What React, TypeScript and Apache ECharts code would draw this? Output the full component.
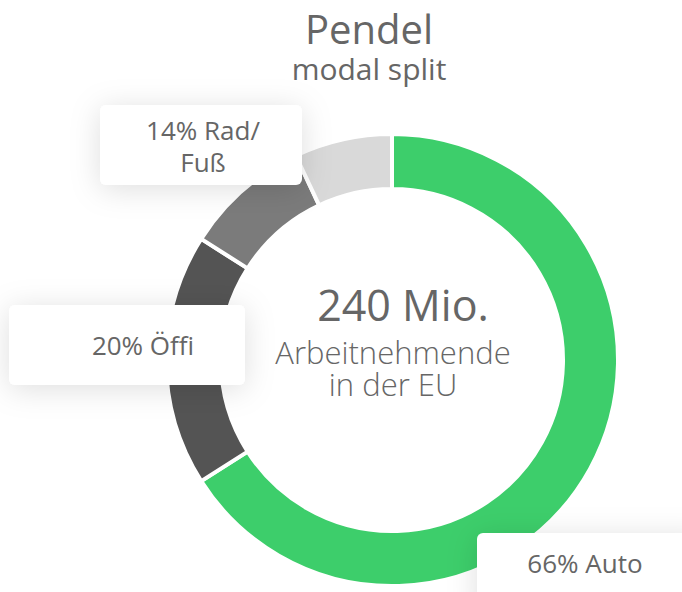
import React, { useEffect, useRef } from "react";
import * as echarts from "echarts";

const categories = ["Auto", "Öffi", "Rad", "Fuß"];
const values = [66, 18, 9, 7];
const sliceColors = ["#3dce6b", "#545454", "#7b7b7b", "#d9d9d9"];
const titleText = "Pendel";
const subtitleText = "modal split";
const centerLines = ["240 Mio.", "Arbeitnehmende", "in der EU"];
const labelAuto = "66% Auto";
const labelOeffi = "20% Öffi";
const labelRadFuss = ["14% Rad/", "Fuß"];

const FONT = '"Open Sans", "Noto Sans", sans-serif';
const TEXT_COLOR = "#666666";

function box(x: number, y: number, w: number, h: number) {
  return {
    type: "rect",
    z: 100,
    silent: true,
    shape: { x, y, width: w, height: h, r: 6 },
    style: {
      fill: "#ffffff",
      shadowBlur: 30,
      shadowColor: "rgba(0,0,0,0.13)",
      shadowOffsetY: 4,
    },
  };
}

function txt(
  x: number,
  y: number,
  text: string,
  size: number,
  weight = 400,
  lineHeight?: number
) {
  return {
    type: "text",
    z: 101,
    silent: true,
    x,
    y,
    style: {
      text,
      font: `${weight} ${size}px ${FONT}`,
      fill: TEXT_COLOR,
      align: "center",
      verticalAlign: "middle",
      ...(lineHeight ? { lineHeight } : {}),
    },
  };
}

export default function App() {
  const ref = useRef<HTMLDivElement>(null);
  useEffect(() => {
    document.body.style.margin = "0";
    const chart = echarts.init(ref.current!, null, { renderer: "svg" });
    chart.setOption({
      animation: false,
      backgroundColor: "#ffffff",
      series: [
        {
          type: "pie",
          center: [392, 360],
          radius: [171, 226],
          startAngle: 90,
          clockwise: true,
          silent: true,
          label: { show: false },
          labelLine: { show: false },
          emphasis: { disabled: true },
          itemStyle: { borderColor: "#ffffff", borderWidth: 4 },
          data: categories.map((name, i) => ({
            name,
            value: values[i],
            itemStyle: { color: sliceColors[i] },
          })),
        },
      ],
      graphic: {
        elements: [
          {
            type: "text",
            z: 101,
            silent: true,
            x: 369,
            y: 6,
            style: {
              text: `{a|${titleText}}\n{b|${subtitleText}}`,
              align: "center",
              verticalAlign: "top",
              rich: {
                a: {
                  font: `400 40px ${FONT}`,
                  fill: TEXT_COLOR,
                  lineHeight: 44,
                  align: "center",
                },
                b: {
                  font: `400 30px ${FONT}`,
                  fill: TEXT_COLOR,
                  lineHeight: 37,
                  align: "center",
                },
              },
            },
          },
          txt(403, 304, centerLines[0], 43),
          txt(393, 368, `${centerLines[1]}\n${centerLines[2]}`, 31, 300, 32),
          box(100, 105, 202, 80),
          txt(203, 146, labelRadFuss.join("\n"), 26, 400, 32),
          box(9, 305, 236, 80),
          txt(143, 345, labelOeffi, 26),
          box(477, 533, 230, 80),
          txt(585, 563, labelAuto, 26),
        ],
      },
    });
    return () => chart.dispose();
  }, []);
  return <div ref={ref} style={{ width: 682, height: 592 }} />;
}
